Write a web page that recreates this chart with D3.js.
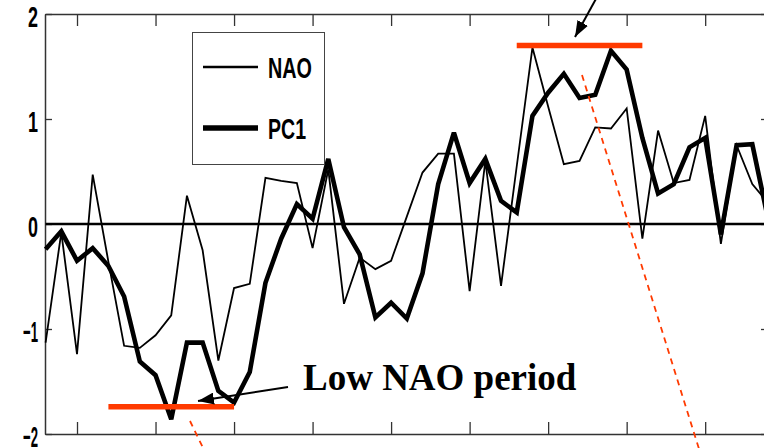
<!DOCTYPE html>
<html>
<head>
<meta charset="utf-8">
<script src="https://cdn.jsdelivr.net/npm/d3@7"></script>
<style>
  body { margin: 0; background: #fff; }
  svg { display: block; }
</style>
</head>
<body>
<div id="chart"></div>
<script>
// Data (one value per year)
var years = d3.range(1958, 2005);
var naoValues = [-1.13, -0.08, -1.24, 0.47, -0.36, -1.16, -1.18, -1.06, -0.87, 0.27,
  -0.25, -1.3, -0.61, -0.57, 0.44, 0.41, 0.39, -0.23, 0.52, -0.76,
  -0.32, -0.43, -0.35, 0.07, 0.49, 0.67, 0.67, -0.64, 0.6, -0.59,
  0.55, 1.68, 1.12, 0.57, 0.6, 0.92, 0.91, 1.1, -0.14, 0.89,
  0.39, 0.42, 1.03, -0.19, 0.75, 0.38, 0.2];
var pc1Values = [-0.24, -0.07, -0.35, -0.23, -0.4, -0.69, -1.31, -1.44, -1.86, -1.13,
  -1.13, -1.59, -1.7, -1.41, -0.56, -0.14, 0.19, 0.05, 0.62, -0.03,
  -0.29, -0.89, -0.75, -0.9, -0.47, 0.38, 0.87, 0.39, 0.62, 0.22,
  0.11, 1.03, 1.25, 1.43, 1.2, 1.23, 1.65, 1.47, 0.82, 0.29,
  0.38, 0.73, 0.82, -0.1, 0.75, 0.76, 0.05];
var yTicks = [-2, -1, 0, 1, 2];
var xTicks = [1960, 1965, 1970, 1975, 1980, 1985, 1990, 1995, 2000];
var seriesNames = ["NAO", "PC1"];

// annotation periods (years) and the level of the red bars
var lowPeriod = [1962, 1970];
var highPeriod = [1988, 1996];
var lowLevel = -1.74;
var highLevel = 1.7;

var svgWidth = 764;
var svgHeight = 448;
var red = "#ff3a00";

var svg = d3.select("#chart")
  .append("svg")
  .attr("width", svgWidth)
  .attr("height", svgHeight);

// arrow head marker
svg.append("defs").append("marker")
  .attr("id", "head")
  .attr("markerUnits", "userSpaceOnUse")
  .attr("viewBox", "0 -6 16 12")
  .attr("refX", 16)
  .attr("refY", 0)
  .attr("markerWidth", 16)
  .attr("markerHeight", 12)
  .attr("orient", "auto")
  .append("path")
  .attr("d", "M0,-6L16,0L0,6Z")
  .attr("fill", "#000");

// scales
var x = d3.scaleLinear().domain([1958, 2004]).range([45.6, 768]);
var y = d3.scaleLinear().domain([-2, 2]).range([434, 14]);

// axes, ticks pointing inwards
var axisColor = "#333";
function styleAxis(g) {
  g.select(".domain").attr("stroke", axisColor).attr("stroke-width", 1.5);
  g.selectAll(".tick line").attr("stroke", axisColor).attr("stroke-width", 1.3);
}

svg.append("g")
  .attr("transform", "translate(0,14)")
  .call(d3.axisTop(x).tickValues(xTicks).tickSizeInner(-12).tickSizeOuter(0).tickFormat(""))
  .call(styleAxis);

svg.append("g")
  .attr("transform", "translate(0,434)")
  .call(d3.axisBottom(x).tickValues(xTicks).tickSizeInner(-12).tickSizeOuter(0).tickFormat(""))
  .call(styleAxis);

svg.append("g")
  .attr("transform", "translate(768,0)")
  .call(d3.axisRight(y).tickValues(yTicks).tickSizeInner(-7).tickSizeOuter(0).tickFormat(""))
  .call(styleAxis);

var leftAxis = svg.append("g")
  .attr("transform", "translate(45,0)")
  .call(d3.axisLeft(y).tickValues(yTicks).tickSizeInner(-7).tickSizeOuter(0)
    .tickPadding(7).tickFormat(d3.format("d")))
  .call(styleAxis);

leftAxis.selectAll(".tick text")
  .attr("font-family", "Liberation Sans, Arial, sans-serif")
  .attr("font-weight", "bold")
  .attr("font-size", 29)
  .attr("fill", "#000")
  .attr("dy", "0.42em")
  .attr("textLength", d => d < 0 ? 15 : 10)
  .attr("lengthAdjust", "spacingAndGlyphs");

// zero line
svg.append("line")
  .attr("x1", x(1958)).attr("x2", x(2004))
  .attr("y1", y(0)).attr("y2", y(0))
  .attr("stroke", "#000")
  .attr("stroke-width", 2.5);

// the two series
var line = d3.line()
  .x((d, i) => x(years[i]))
  .y(d => y(d));

svg.append("path")
  .datum(naoValues)
  .attr("d", line)
  .attr("fill", "none")
  .attr("stroke", "#000")
  .attr("stroke-width", 1.8)
  .attr("stroke-linejoin", "miter");

svg.append("path")
  .datum(pc1Values)
  .attr("d", line)
  .attr("fill", "none")
  .attr("stroke", "#000")
  .attr("stroke-width", 4.6)
  .attr("stroke-linejoin", "miter")
  .attr("stroke-miterlimit", 3);

// legend
var legend = svg.append("g");
legend.append("rect")
  .attr("x", 192.5).attr("y", 32.5)
  .attr("width", 132).attr("height", 132)
  .attr("fill", "#fff")
  .attr("stroke", "#444")
  .attr("stroke-width", 1);

var legendRows = [
  { name: seriesNames[0], y: 67, width: 2.5, len: 44 },
  { name: seriesNames[1], y: 128, width: 5.5, len: 38 }
];
legendRows.forEach(function(r) {
  legend.append("line")
    .attr("x1", 203).attr("x2", 258)
    .attr("y1", r.y).attr("y2", r.y)
    .attr("stroke", "#000")
    .attr("stroke-width", r.width);
  legend.append("text")
    .attr("x", 268)
    .attr("y", r.y + 11)
    .attr("font-family", "Liberation Sans, Arial, sans-serif")
    .attr("font-weight", "bold")
    .attr("font-size", 29)
    .attr("textLength", r.len)
    .attr("lengthAdjust", "spacingAndGlyphs")
    .text(r.name);
});

// red period bars
[[lowPeriod, lowLevel], [highPeriod, highLevel]].forEach(function(p) {
  svg.append("line")
    .attr("x1", x(p[0][0])).attr("x2", x(p[0][1]))
    .attr("y1", y(p[1])).attr("y2", y(p[1]))
    .attr("stroke", red)
    .attr("stroke-width", 5.5);
});

// red dashed guide lines
svg.append("line")
  .attr("x1", 582).attr("y1", 75)
  .attr("x2", 700).attr("y2", 452)
  .attr("stroke", red)
  .attr("stroke-width", 1.8)
  .attr("stroke-dasharray", "6,5");

svg.append("line")
  .attr("x1", 190).attr("y1", 421)
  .attr("x2", 205).attr("y2", 452)
  .attr("stroke", red)
  .attr("stroke-width", 1.8)
  .attr("stroke-dasharray", "6,5");

// arrows
svg.append("line")
  .attr("x1", 288).attr("y1", 387)
  .attr("x2", 198).attr("y2", 401)
  .attr("stroke", "#000")
  .attr("stroke-width", 2)
  .attr("marker-end", "url(#head)");

svg.append("line")
  .attr("x1", 597).attr("y1", -3)
  .attr("x2", 575).attr("y2", 37)
  .attr("stroke", "#000")
  .attr("stroke-width", 2)
  .attr("marker-end", "url(#head)");

svg.append("text")
  .attr("x", 303)
  .attr("y", 390)
  .attr("font-family", "Liberation Serif, Times New Roman, serif")
  .attr("font-weight", "bold")
  .attr("font-size", 37)
  .text("Low NAO period");
</script>
</body>
</html>
